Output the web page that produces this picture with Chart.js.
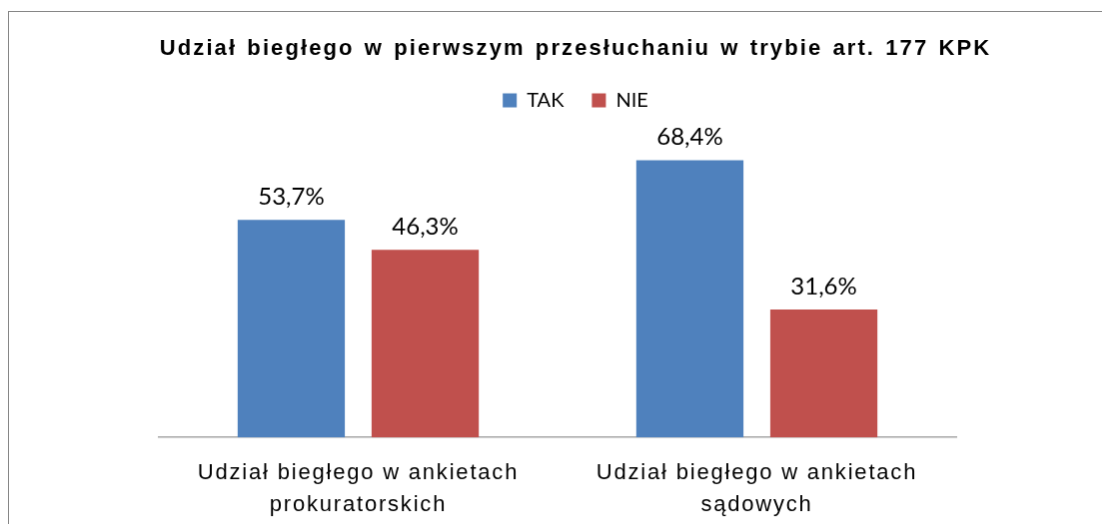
<!DOCTYPE html>
<html>
<head>
<meta charset="utf-8">
<script src="https://cdn.jsdelivr.net/npm/chart.js@4/dist/chart.umd.min.js"></script>
<style>
  html, body { margin: 0; padding: 0; overflow: hidden; background: #fff; width: 1102px; height: 524px; }
  #c { position: absolute; left: 8px; top: 11px; border-left: 1px solid #868686; border-top: 1px solid #868686; }
</style>
</head>
<body>
<canvas id="c" width="1112" height="540"></canvas>
<script>
const titleText = "Udział biegłego w pierwszym przesłuchaniu w trybie art. 177 KPK";
const categories = [
  ["Udział biegłego w ankietach", "prokuratorskich"],
  ["Udział biegłego w ankietach", "sądowych"]
];
const seriesNames = ["TAK", "NIE"];
const takValues = [53.7, 68.4];
const nieValues = [46.3, 31.6];
const seriesColors = ["#4F81BD", "#C0504D"];

const fmt = v => v.toFixed(1).replace('.', ',') + '%';

function spaced(obj, method, ls, ws) {
  if (!obj || obj['__sp_' + method]) return;
  const orig = obj[method];
  obj[method] = function (...args) {
    const ctx = this.ctx;
    const pl = ctx.letterSpacing, pw = ctx.wordSpacing;
    ctx.letterSpacing = ls; ctx.wordSpacing = ws;
    try { return orig.apply(this, args); }
    finally { ctx.letterSpacing = pl; ctx.wordSpacing = pw; }
  };
  obj['__sp_' + method] = true;
}

const textSpacing = {
  id: 'textSpacing',
  beforeDraw(chart) {
    spaced(chart.titleBlock, 'draw', '2.1px', '2px');
    spaced(chart.scales.x, 'drawLabels', '1.8px', '0px');
  }
};

const valueLabels = {
  id: 'valueLabels',
  afterDatasetsDraw(chart) {
    const ctx = chart.ctx;
    chart.data.datasets.forEach((ds, i) => {
      const meta = chart.getDatasetMeta(i);
      meta.data.forEach((bar, j) => {
        ctx.save();
        ctx.font = '24px Lato';
        ctx.fillStyle = '#000';
        ctx.textAlign = 'center';
        ctx.textBaseline = 'middle';
        ctx.fillText(fmt(ds.data[j]), bar.x, bar.y - 23);
        ctx.restore();
      });
    });
  }
};

new Chart(document.getElementById('c'), {
  type: 'bar',
  data: {
    labels: categories,
    datasets: [
      { label: seriesNames[0], data: takValues, backgroundColor: seriesColors[0], barPercentage: 0.8, categoryPercentage: 0.672 },
      { label: seriesNames[1], data: nieValues, backgroundColor: seriesColors[1], barPercentage: 0.8, categoryPercentage: 0.672 }
    ]
  },
  options: {
    responsive: false,
    animation: false,
    devicePixelRatio: 1,
    layout: { padding: { left: 150, right: 128, top: 0, bottom: 18 } },
    plugins: {
      title: {
        display: true,
        text: titleText,
        color: '#000',
        font: { family: 'Liberation Sans', size: 22, weight: 'bold', lineHeight: 1.2 },
        padding: { top: 24, bottom: 0 }
      },
      legend: {
        display: true,
        maxHeight: 51,
        labels: {
          boxWidth: 14, boxHeight: 14, color: '#000',
          font: { family: 'Lato', size: 20 },
          padding: 28
        }
      },
      tooltip: { enabled: false }
    },
    scales: {
      y: {
        display: true, position: 'right', min: 0, max: 80,
        grid: { display: false }, border: { display: false },
        ticks: { display: false },
        afterFit: s => { s.width = 36; }
      },
      x: {
        grid: { display: false },
        border: { display: true, color: '#A6A6A6', width: 1.5 },
        ticks: {
          color: '#000',
          font: { family: 'Liberation Sans', size: 22, lineHeight: 1.45 },
          padding: 12,
          maxRotation: 0,
          autoSkip: false
        }
      }
    }
  },
  plugins: [textSpacing, valueLabels]
});
</script>
</body>
</html>
